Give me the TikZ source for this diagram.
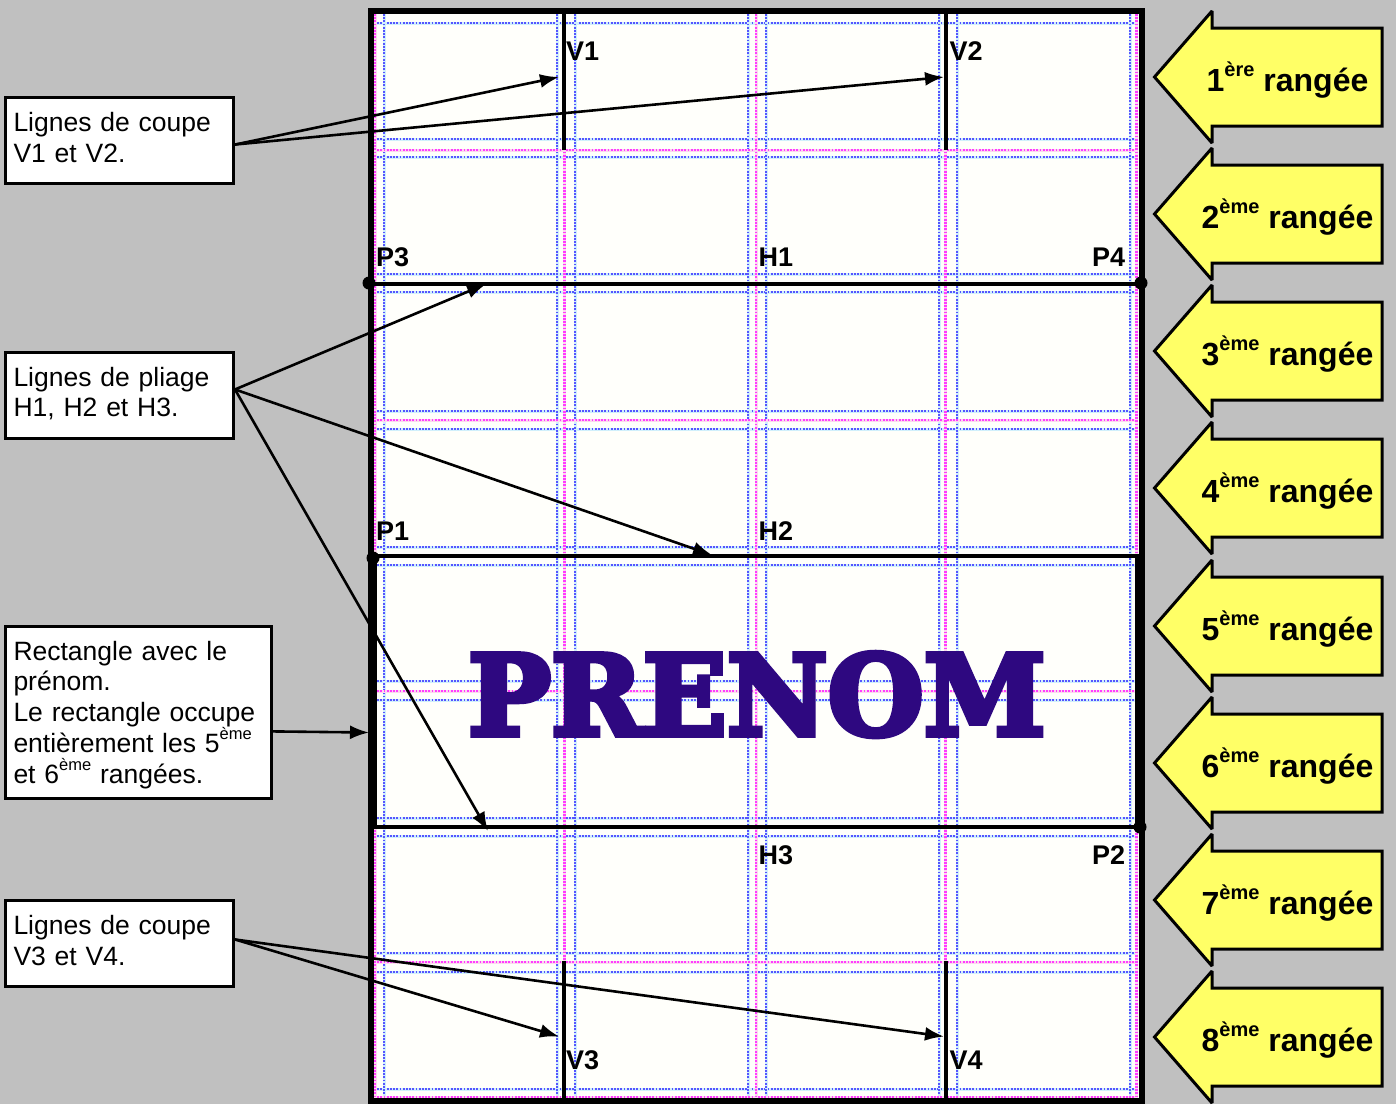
\documentclass[tikz,border=0pt]{standalone}
\usepackage{fontspec}
\setmainfont{Liberation Sans}
\newfontfamily\prenomfont[FakeBold=5]{DejaVu Serif Bold}
\usetikzlibrary{arrows.meta}
\definecolor{fond}{RGB}{192,192,192}
\definecolor{papier}{RGB}{255,255,251}
\definecolor{jaune}{RGB}{255,255,102}
\definecolor{bleu}{RGB}{85,85,255}
\definecolor{rose}{RGB}{255,60,255}
\definecolor{encre}{RGB}{46,8,128}
\newcommand\expo[3]{\raisebox{#1pt}{\fontsize{#2}{#2}\selectfont #3}}
\tikzset{
	boite/.style={draw=black,line width=3pt,fill=white,inner sep=0pt,
		align=left,font=\fontsize{26.5}{30.5}\selectfont},
	repere/.style={anchor=base west,inner sep=0pt,font=\fontsize{27}{27}\selectfont\bfseries},
	rangee/.style={anchor=base,inner sep=0pt,font=\fontsize{32}{32}\selectfont\bfseries},
	fleche/.style={->,line width=2.6pt},
	pli/.style={line width=4pt},
	grilleb/.style={color=bleu,line width=2.2pt,dash pattern=on 1.8pt off 1.4pt},
	griller/.style={color=rose,line width=2.2pt,dash pattern=on 1.8pt off 1.4pt},
	halob/.style={color=cyan!18,line width=3pt},
	halor/.style={color=magenta!15,line width=3pt}
}
\begin{document}
\begin{tikzpicture}[x=1pt,y=-1pt,>={Latex[length=19pt,width=14pt]}]
\useasboundingbox (0,0) rectangle (1396,1104);
\fill[fond] (0,0) rectangle (1396,1104);

% Feuille
\fill[papier] (371,11) rectangle (1141.5,1101);

% Quadrillage
\foreach \y in {23,139,157,274,292,411,429,547,565,681,700,818,836,953,972,1089} {
	\draw[halob] (374,\y)--(1138,\y);
	\draw[grilleb] (374,\y)--(1138,\y);
}
\foreach \x in {384,557,575,748,766,939,957,1130} {
	\draw[halob] (\x,14)--(\x,1098);
	\draw[grilleb] (\x,14)--(\x,1098);
}
\foreach \y in {150,420,691,962,1097} {
	\draw[halor] (374,\y)--(1138,\y);
	\draw[griller] (374,\y)--(1138,\y);
}
\foreach \x in {375,564.5,756,945.5,1136.5} {
	\draw[halor] (\x,14)--(\x,1098);
	\draw[griller] (\x,14)--(\x,1098);
}

% Prenom
\node[color=encre,inner sep=0pt,anchor=base,xscale=0.943,yscale=0.95] (prenom) at (757,735)
	{\fontsize{117}{117}\prenomfont PRENOM};

% Cadre
\draw[line width=6pt] (371,11) rectangle (1141.5,1101);
\draw[line width=9.5pt] (372.7,556)--(372.7,827);
\draw[line width=9.5pt] (1139.7,556)--(1139.7,827);

% Lignes de pliage
\draw[pli] (369,283.5)--(1141,283.5);
\draw[pli] (369,556)--(1141,556);
\draw[pli] (369,827)--(1141,827);

% Lignes de coupe
\draw[pli] (564,14)--(564,150);
\draw[pli] (945.5,14)--(945.5,150);
\draw[pli] (564,961)--(564,1098);
\draw[pli] (945.5,961)--(945.5,1098);

\fill (369,283) circle[radius=6.5];
\fill (1141,283) circle[radius=6.5];
\fill (373,558) circle[radius=6.5];
\fill (1140,827) circle[radius=6.5];

\node[repere] (V1) at (566,60) {V1};
\node[repere] (V2) at (949.5,60) {V2};
\node[repere] (V3) at (566,1069) {V3};
\node[repere] (V4) at (949.5,1069) {V4};
\node[repere] (P3) at (376,266) {P3};
\node[repere] (H1) at (758.5,266) {H1};
\node[repere] (P4) at (1092,266) {P4};
\node[repere] (P1) at (376,540) {P1};
\node[repere] (H2) at (758.5,540) {H2};
\node[repere] (H3) at (758.5,864) {H3};
\node[repere] (P2) at (1092,864) {P2};

% Fleches jaunes
\foreach \n/\e/\y in {1/ère/77,2/ème/214,3/ème/351,4/ème/488,5/ème/626,6/ème/763,7/ème/900,8/ème/1037} {
	\draw[fill=jaune,line width=3pt,line join=miter,miter limit=2]
		(1154.5,\y)--(1212,\y-66)--(1212,\y-49)--(1382,\y-49)--(1382,\y+49)--(1212,\y+49)--(1212,\y+66)--cycle;
	\node[rangee] (rang\n) at (1287.5,\y+14) {\n\expo{15}{20}{\e} rangée};
}

% Boites
\node[boite,minimum width=228pt,minimum height=86pt,text width=212pt,text height=13.3pt] (coupeA) at (119.5,140.5)
	{Lignes de coupe\\V1 et V2.};
\node[boite,minimum width=228pt,minimum height=86pt,text width=212pt,text height=15.3pt] (pliage) at (119.5,395.5)
	{Lignes de pliage\\H1, H2 et H3.};
\node[boite,minimum width=266pt,minimum height=172pt,text width=250pt,text height=24.3pt] (rect) at (138.5,712.5)
	{Rectangle avec le\\prénom.\\Le rectangle occupe\\entièrement les 5\expo{13}{16.5}{ème}\\et 6\expo{13}{16.5}{ème} rangées.};
\node[boite,minimum width=228pt,minimum height=86pt,text width=212pt,text height=13.3pt] (coupeB) at (119.5,943.5)
	{Lignes de coupe\\V3 et V4.};

% Extremites des fleches
\coordinate (cV1) at (559,77);
\coordinate (cV2) at (944,77);
\coordinate (cH1) at (486,284);
\coordinate (cH2) at (712,555);
\coordinate (cH3) at (488,831);
\coordinate (cR) at (369,732.5);
\coordinate (cV3) at (559,1036.5);
\coordinate (cV4) at (944,1036.5);

\draw[fleche] (coupeA.-2.2)--(cV1);
\draw[fleche] (coupeA.-2.2)--(cV2);
\draw[fleche] (pliage.3.7)--(cH1);
\draw[fleche] (pliage.3.7)--(cH2);
\draw[fleche] (pliage.3.7)--(cH3);
\draw[fleche] (rect.-8.2)--(cR);
\draw[fleche] (coupeB.2.7)--(cV3);
\draw[fleche] (coupeB.2.7)--(cV4);

\end{tikzpicture}
\end{document}
